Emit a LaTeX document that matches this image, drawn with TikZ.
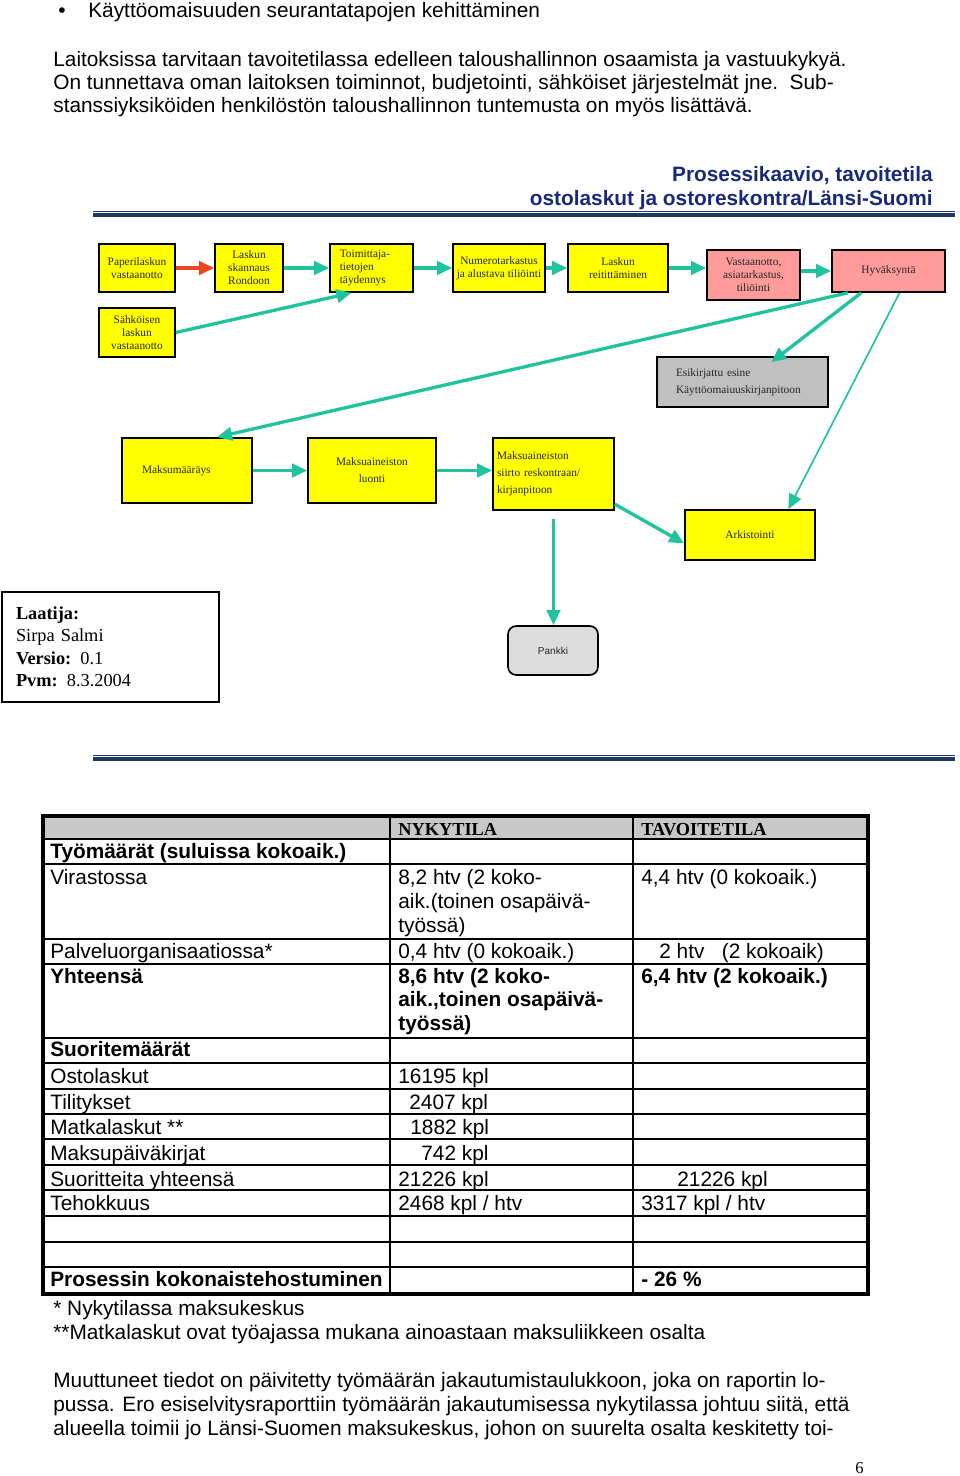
\documentclass[tikz,border=0pt]{standalone}
\usepackage{fontspec}
\setmainfont{Liberation Sans}
\newfontfamily\tnr{Liberation Serif}
\usepackage{xcolor}
\usetikzlibrary{arrows.meta,positioning,calc}
\definecolor{boxyellow}{HTML}{FFFF00}
\definecolor{boxpink}{HTML}{FF9B9B}
\definecolor{boxgray}{HTML}{C0C0C0}
\definecolor{pankgray}{HTML}{DDDDDD}
\definecolor{hdrgray}{HTML}{C8C8C8}
\definecolor{flowteal}{HTML}{20C39E}
\definecolor{flowred}{HTML}{EE4422}
\definecolor{titlenavy}{HTML}{1A2878}
\definecolor{linenavy}{HTML}{1F3864}

\begin{document}
\begin{tikzpicture}[x=0.6pt,y=-0.6pt,
  box/.style={draw,line width=1pt,fill=boxyellow,align=center,inner sep=1pt,
    text=black!85,font=\tnr\fontsize{6.8}{7.8}\selectfont},
  flow/.style={flowteal,line width=2pt,-{Triangle[length=9pt,width=8pt]}},
  cell/.style={anchor=west,inner sep=0pt,yshift=-1.2pt,text height=8.9pt,text depth=2.5pt,
    font=\fontsize{12.5}{14}\selectfont},
  bcell/.style={cell,font=\bfseries\fontsize{12.5}{14}\selectfont},
  hdr/.style={cell,font=\tnr\bfseries\fontsize{11}{12}\selectfont},
  ttl/.style={anchor=east,inner sep=0pt,yshift=-1.2pt,text=titlenavy,
    font=\bfseries\fontsize{12.5}{14}\selectfont}]
\useasboundingbox (0,0) rectangle (960,1476);

\node[cell] (bul) at (58,10) {\textbullet};
\node[cell] (head) at (88,10) {Käyttöomaisuuden seurantatapojen kehittäminen};
\node[cell] (intro1) at (53,59) {Laitoksissa tarvitaan tavoitetilassa edelleen taloushallinnon osaamista ja vastuukykyä.};
\node[cell] (intro2) at (53,82) {On tunnettava oman laitoksen toiminnot, budjetointi, sähköiset järjestelmät jne.\ \ Sub-};
\node[cell] (intro3) at (53,105) {stanssiyksiköiden henkilöstön taloushallinnon tuntemusta on myös lisättävä.};

\node[ttl] (ttl1) at (933,174) {Prosessikaavio, tavoitetila};
\node[ttl] (ttl2) at (933,198) {ostolaskut ja ostoreskontra/Länsi-Suomi};
\draw[linenavy,line width=0.6pt] (93,211) -- (955,211);
\draw[linenavy,line width=2pt] (93,215) -- (955,215);

\node[box,minimum width=45.6pt,minimum height=28.8pt] (pap) at (137,268) {Paperilaskun\\vastaanotto};
\node[box,minimum width=40.8pt,minimum height=28.8pt] (skan) at (249,268) {Laskun\\skannaus\\Rondoon};
\node[box,minimum width=49.8pt,minimum height=28.8pt,align=left,text width=38pt] (toim) at (371.5,268) {Toimittaja-\\tietojen\\täydennys};
\node[box,minimum width=55.2pt,minimum height=28.8pt] (num) at (499,268) {Numerotarkastus\\ja alustava tiliöinti};
\node[box,minimum width=60pt,minimum height=28.8pt] (reit) at (618,268) {Laskun\\reitittäminen};
\node[box,fill=boxpink,minimum width=55.8pt,minimum height=30pt] (vast) at (753.5,275) {Vastaanotto,\\asiatarkastus,\\tiliöinti};
\node[box,fill=boxpink,minimum width=67.8pt,minimum height=25.2pt] (hyv) at (888.5,271) {Hyväksyntä};
\node[box,minimum width=45.6pt,minimum height=29.4pt] (sah) at (137,332.5) {Sähköisen\\laskun\\vastaanotto};
\node[box,fill=boxgray,minimum width=102.6pt,minimum height=30pt,align=left,text width=79.8pt,font=\tnr\fontsize{6.8}{10.2}\selectfont] (esi) at (742.5,382) {Esikirjattu esine\\Käyttöomaiuuskirjanpitoon};
\node[box,minimum width=78pt,minimum height=39pt,align=left,text width=54pt] (maks) at (187,470.5) {Maksumääräys};
\node[box,minimum width=76.8pt,minimum height=39pt,font=\tnr\fontsize{6.8}{10.2}\selectfont] (luo) at (372,470.5) {Maksuaineiston\\luonti};
\node[box,minimum width=72.6pt,minimum height=43.2pt,align=left,text width=67.8pt,font=\tnr\fontsize{6.8}{10.2}\selectfont] (sii) at (553.5,474) {Maksuaineiston\\siirto reskontraan/\\kirjanpitoon};
\node[box,minimum width=78pt,minimum height=30pt] (ark) at (750,535) {Arkistointi};
\node[draw,line width=1pt,fill=pankgray,rounded corners=5pt,minimum width=54pt,minimum height=29.4pt,text=black!85,font=\fontsize{6}{7}\selectfont] (pank) at (553,650.5) {Pankki};

\draw[flow,flowred] (pap.east) -- (skan.west);
\draw[flow] (skan.east) -- (toim.west);
\draw[flow] (toim.east) -- (num.west);
\draw[flow] (num.east) -- (reit.west);
\draw[flow] (reit.east) -- (reit.east -| vast.west);
\draw[flow] (vast.east |- hyv.west) -- (hyv.west);
\draw[flow] (sah.east) -- ([xshift=-12pt]toim.south);
\draw[flow] ([xshift=10pt]hyv.south west) -- ([xshift=18pt]maks.north);
\draw[flow,shorten >=-6pt] ([xshift=18pt]hyv.south west) -- ([xshift=22pt]esi.north);
\draw[flow,line width=1pt] ([xshift=41pt]hyv.south west) -- ([xshift=23pt]ark.north);
\draw[flow] (maks.east) -- (luo.west);
\draw[flow] (luo.east) -- (luo.east -| sii.west);
\draw[flow] ([yshift=4pt]sii.south east) -- ([yshift=-5pt]ark.west);
\draw[flow,shorten <=5pt] (sii.south) -- (sii.south |- pank.north);

\node[draw,line width=1pt,minimum width=130.2pt,minimum height=66pt,align=left,text width=113.4pt,inner sep=0pt,font=\tnr\fontsize{11}{13.5}\selectfont] (laat) at (110.5,647) {\textbf{Laatija:}\\Sirpa Salmi\\\textbf{Versio:} 0.1\\\textbf{Pvm:} 8.3.2004\\[-2pt]};

\draw[linenavy,line width=0.6pt] (93,755) -- (955,755);
\draw[linenavy,line width=2pt] (93,759) -- (955,759);

\fill[hdrgray] (43,816) rectangle (868,839);
\foreach \y in {839,864,939,964,1038,1063,1089,1114,1139,1165,1190,1216,1242,1267}
  \draw[line width=1pt] (43,\y) -- (868,\y);
\draw[line width=1pt] (390,816) -- (390,1294);
\draw[line width=1pt] (633,816) -- (633,1294);
\draw[line width=2pt] (43,816) rectangle (868,1294);

\node[hdr] (hnyk) at (398,828) {NYKYTILA};
\node[hdr] (htav) at (641,828) {TAVOITETILA};
\node[bcell] (tyo) at (50,851) {Työmäärät (suluissa kokoaik.)};
\node[cell] (vir) at (50,877) {Virastossa};
\node[cell] (vir2a) at (398,877) {8,2 htv (2 koko-};
\node[cell] (vir2b) at (398,901) {aik.(toinen osapäivä-};
\node[cell] (vir2c) at (398,925) {työssä)};
\node[cell] (vir3) at (641,877) {4,4 htv (0 kokoaik.)};
\node[cell] (pal) at (50,951) {Palveluorganisaatiossa*};
\node[cell] (pal2) at (398,951) {0,4 htv (0 kokoaik.)};
\node[cell] (pal3) at (659,951) {2 htv\ \ \ (2 kokoaik)};
\node[bcell] (yht) at (50,976) {Yhteensä};
\node[bcell] (yht2a) at (398,976) {8,6 htv (2 koko-};
\node[bcell] (yht2b) at (398,999) {aik.,toinen osapäivä-};
\node[bcell] (yht2c) at (398,1023) {työssä)};
\node[bcell] (yht3) at (641,976) {6,4 htv (2 kokoaik.)};
\node[bcell] (suo) at (50,1049) {Suoritemäärät};
\node[cell] (ost) at (50,1076) {Ostolaskut};
\node[cell] (ost2) at (398,1076) {16195 kpl};
\node[cell] (til) at (50,1102) {Tilitykset};
\node[cell] (til2) at (409,1102) {2407 kpl};
\node[cell] (mat) at (50,1127) {Matkalaskut **};
\node[cell] (mat2) at (410,1127) {1882 kpl};
\node[cell] (mpk) at (50,1153) {Maksupäiväkirjat};
\node[cell] (mpk2) at (421,1153) {742 kpl};
\node[cell] (syh) at (50,1179) {Suoritteita yhteensä};
\node[cell] (syh2) at (398,1179) {21226 kpl};
\node[cell] (syh3) at (677,1179) {21226 kpl};
\node[cell] (teh) at (50,1203) {Tehokkuus};
\node[cell] (teh2) at (398,1203) {2468 kpl / htv};
\node[cell] (teh3) at (641,1203) {3317 kpl / htv};
\node[bcell] (pro) at (50,1279) {Prosessin kokonaistehostuminen};
\node[bcell] (pro3) at (641,1279) {- 26 \%};

\node[cell] (fn1) at (53,1308) {* Nykytilassa maksukeskus};
\node[cell] (fn2) at (53,1332) {**Matkalaskut ovat työajassa mukana ainoastaan maksuliikkeen osalta};
\node[cell] (out1) at (53,1380) {Muuttuneet tiedot on päivitetty työmäärän jakautumistaulukkoon, joka on raportin lo-};
\node[cell] (out2) at (53,1404) {pussa. Ero esiselvitysraporttiin työmäärän jakautumisessa nykytilassa johtuu siitä, että};
\node[cell] (out3) at (53,1428) {alueella toimii jo Länsi-Suomen maksukeskus, johon on suurelta osalta keskitetty toi-};
\node[anchor=base west,inner sep=0pt,font=\tnr\fontsize{10}{12}\selectfont] (pgno) at (855,1473) {6};
\end{tikzpicture}
\end{document}
